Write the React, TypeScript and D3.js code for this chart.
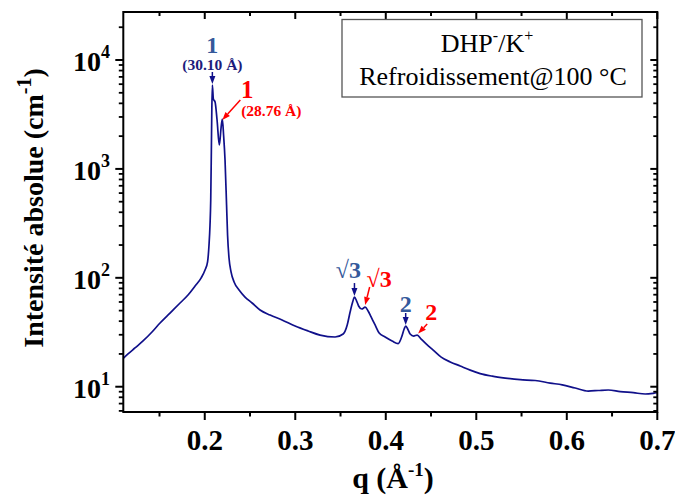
import React from "react";
import * as d3 from "d3";

// ---- data (q in Å^-1, intensity in cm^-1) ----
const qValues = [
  0.1102, 0.1152, 0.1229, 0.1318, 0.1417, 0.1506, 0.1616, 0.1727, 0.1815, 0.1893,
  0.1959, 0.2003, 0.2031, 0.2047, 0.2058, 0.2066, 0.2073, 0.2078, 0.2084, 0.2095,
  0.2114, 0.2136, 0.2161, 0.2180, 0.2194, 0.2208, 0.2224, 0.2241, 0.2252, 0.2268,
  0.2291, 0.2324, 0.2379, 0.2445, 0.2523, 0.2611, 0.2722, 0.2854, 0.2998, 0.3142,
  0.3274, 0.3440, 0.3529, 0.3574, 0.3606, 0.3634, 0.3654, 0.3678, 0.3700, 0.3735,
  0.3772, 0.3805, 0.3838, 0.3882, 0.3927, 0.3993, 0.4070, 0.4137, 0.4175, 0.4203,
  0.4220, 0.4242, 0.4269, 0.4308, 0.4347, 0.4391, 0.4446, 0.4524, 0.4612, 0.4712,
  0.4822, 0.4933, 0.5043, 0.5176, 0.5320, 0.5485, 0.5651, 0.5817, 0.5950, 0.6093,
  0.6237, 0.6348, 0.6458, 0.6591, 0.6735, 0.6867, 0.6956, 0.7000,
];
const intensity = [
  18.3, 20.0, 22.7, 26.3, 31.8, 38.5, 47.5, 58.7, 69.5, 84.1,
  99.5, 118, 140, 200, 305, 518, 1491, 3475, 5896, 4385,
  4116, 2812, 1658, 2375, 2873, 2048, 1207, 466, 247, 152,
  113, 91.5, 77.3, 66.6, 58.7, 50.6, 45.5, 41.0, 36.1, 32.5,
  29.8, 28.6, 30.5, 36.9, 48.5, 59.9, 66.6, 61.2, 55.1, 51.7,
  53.9, 49.6, 43.7, 36.9, 31.1, 28.6, 26.3, 24.9, 28.6, 33.9,
  36.1, 33.9, 30.5, 29.2, 29.8, 27.4, 24.7, 21.7, 18.7, 16.9,
  15.5, 14.2, 13.2, 12.5, 12.0, 11.6, 11.4, 10.8, 10.4, 9.73,
  9.13, 9.23, 9.33, 9.03, 8.81, 8.57, 8.70, 8.81,
];

const xMajorTicks = [0.2, 0.3, 0.4, 0.5, 0.6, 0.7];
const xMinorTicks = [0.15, 0.25, 0.35, 0.45, 0.55, 0.65];
const yMajorTicks = [10, 100, 1000, 10000];
const yMajorExponents = ["1", "2", "3", "4"];

// peak annotations: anchor q / intensity of the peak
const bluePeakQ = [0.2084, 0.3654, 0.4220];
const bluePeakI = [5896, 66.6, 36.1];
const bluePeakLabels = ["1", "√3", "2"];
const redPeakQ = [0.2194, 0.3772, 0.4347];
const redPeakI = [2873, 53.9, 29.8];
const redPeakLabels = ["1", "√3", "2"];
const spacingLabels = ["(30.10 Å)", "(28.76 Å)"];

const legendLine1 = "DHP";
const legendLine2 = "Refroidissement@100 °C";

const W = 675;
const H = 495;
const L = 123.3, R = 657.3, T = 12, B = 412;
const FONT = "'Liberation Serif', 'Times New Roman', serif";
const NAVY = "#10108a";
const BLUE = "#35599b";
const RED = "#ff0000";

function Arrow({ x1, y1, x2, y2, color }: { x1: number; y1: number; x2: number; y2: number; color: string }) {
  const ang = Math.atan2(y2 - y1, x2 - x1);
  const len = 8, half = 3;
  const bx = x2 - len * Math.cos(ang), by = y2 - len * Math.sin(ang);
  const px = -Math.sin(ang) * half, py = Math.cos(ang) * half;
  return (
    <g>
      <line x1={x1} y1={y1} x2={bx} y2={by} stroke={color} strokeWidth={1.5} />
      <path d={`M${x2},${y2}L${bx + px},${by + py}L${bx - px},${by - py}Z`} fill={color} />
    </g>
  );
}

export default function App() {
  const x = d3.scaleLinear().domain([0.11, 0.7]).range([L, R]);
  const y = d3.scaleLog().domain([5.86, 27600]).range([B, T]);
  const data = qValues.map((q, i) => ({ q, I: intensity[i] }));
  const line = d3
    .line<{ q: number; I: number }>()
    .x((d) => x(d.q))
    .y((d) => y(d.I))
    .curve(d3.curveMonotoneX);

  const yMinor: number[] = [];
  [1, 10, 100, 1000, 10000].forEach((dec) => {
    for (let k = 2; k <= 9; k++) {
      const v = k * dec;
      if (v >= 5.86 && v <= 27600) yMinor.push(v);
    }
  });

  const b = bluePeakQ.map((q, i) => ({ px: x(q), py: y(bluePeakI[i]) }));
  const r = redPeakQ.map((q, i) => ({ px: x(q), py: y(redPeakI[i]) }));

  return (
    <svg width={W} height={H} style={{ position: "absolute", left: 0, top: 0, background: "#fff" }} fontFamily={FONT}>
      <defs>
        <clipPath id="plotclip">
          <rect x={L} y={T} width={R - L} height={B - T} />
        </clipPath>
      </defs>

      {/* data */}
      <path d={line(data) || ""} fill="none" stroke={NAVY} strokeWidth={1.7} strokeLinejoin="round" clipPath="url(#plotclip)" />

      {/* frame */}
      <rect x={L} y={T} width={R - L} height={B - T} fill="none" stroke="#000" strokeWidth={2} />

      {/* x ticks */}
      {xMajorTicks.map((t) => (
        <g key={"xm" + t}>
          <line x1={x(t)} x2={x(t)} y1={B} y2={B + 8} stroke="#000" strokeWidth={2} />
          <line x1={x(t)} x2={x(t)} y1={T} y2={T + 7} stroke="#000" strokeWidth={2} />
          <text x={x(t)} y={450} textAnchor="middle" fontSize={29} fontWeight="bold">
            {t.toFixed(1)}
          </text>
        </g>
      ))}
      {xMinorTicks.map((t) => (
        <g key={"xn" + t}>
          <line x1={x(t)} x2={x(t)} y1={B} y2={B + 4.5} stroke="#000" strokeWidth={2} />
          <line x1={x(t)} x2={x(t)} y1={T} y2={T + 4} stroke="#000" strokeWidth={2} />
        </g>
      ))}

      {/* y ticks */}
      {yMajorTicks.map((t, i) => (
        <g key={"ym" + t}>
          <line x1={L - 8} x2={L} y1={y(t)} y2={y(t)} stroke="#000" strokeWidth={2} />
          <line x1={R - 7} x2={R} y1={y(t)} y2={y(t)} stroke="#000" strokeWidth={2} />
          <text x={110} y={y(t) + 11} textAnchor="end" fontSize={28} fontWeight="bold">
            10
            <tspan dy={-13} fontSize={18}>
              {yMajorExponents[i]}
            </tspan>
          </text>
        </g>
      ))}
      {yMinor.map((t) => (
        <g key={"yn" + t}>
          <line x1={L - 4.5} x2={L} y1={y(t)} y2={y(t)} stroke="#000" strokeWidth={1.8} />
          <line x1={R - 4} x2={R} y1={y(t)} y2={y(t)} stroke="#000" strokeWidth={1.8} />
        </g>
      ))}

      {/* axis titles */}
      <text x={393} y={488} textAnchor="middle" fontSize={30} fontWeight="bold">
        q (Å
        <tspan dy={-12} fontSize={19}>-1</tspan>
        <tspan dy={12}>)</tspan>
      </text>
      <text transform="translate(43,208) rotate(-90)" textAnchor="middle" fontSize={28} fontWeight="bold">
        Intensité absolue (cm
        <tspan dy={-12} fontSize={20}>-1</tspan>
        <tspan dy={12}>)</tspan>
      </text>

      {/* legend */}
      <rect x={342} y={19.5} width={300} height={77.5} fill="#fff" stroke="#555" strokeWidth={1.3} />
      <text x={487} y={52} textAnchor="middle" fontSize={26}>
        {legendLine1}
        <tspan dy={-11} fontSize={16}>-</tspan>
        <tspan dy={11}>/K</tspan>
        <tspan dy={-11} fontSize={16}>+</tspan>
      </text>
      <text x={493} y={85} textAnchor="middle" fontSize={26}>
        {legendLine2}
      </text>

      {/* blue annotations */}
      <text x={b[0].px} y={b[0].py - 32} textAnchor="middle" fontSize={24} fontWeight="bold" fill={BLUE}>
        {bluePeakLabels[0]}
      </text>
      <text x={b[0].px} y={b[0].py - 15} textAnchor="middle" fontSize={15.5} fontWeight="bold" fill="#1c1c7c">
        {spacingLabels[0]}
      </text>
      <Arrow x1={b[0].px} y1={b[0].py - 13} x2={b[0].px} y2={b[0].py - 1} color={NAVY} />

      <text x={b[1].px - 6} y={b[1].py - 19} textAnchor="middle" fontSize={24} fontWeight="bold" fill={BLUE}>
        {bluePeakLabels[1]}
      </text>
      <Arrow x1={b[1].px} y1={b[1].py - 14} x2={b[1].px} y2={b[1].py - 1} color={NAVY} />

      <text x={b[2].px} y={b[2].py - 14} textAnchor="middle" fontSize={24} fontWeight="bold" fill={BLUE}>
        {bluePeakLabels[2]}
      </text>
      <Arrow x1={b[2].px} y1={b[2].py - 13} x2={b[2].px} y2={b[2].py - 1} color={NAVY} />

      {/* red annotations */}
      <text x={r[0].px + 25} y={r[0].py - 21} textAnchor="middle" fontSize={25} fontWeight="bold" fill={RED}>
        {redPeakLabels[0]}
      </text>
      <text x={r[0].px + 49} y={r[0].py - 3} textAnchor="middle" fontSize={15.5} fontWeight="bold" fill={RED}>
        {spacingLabels[1]}
      </text>
      <Arrow x1={r[0].px + 18} y1={r[0].py - 19} x2={r[0].px} y2={r[0].py + 1} color={RED} />

      <text x={r[1].px + 14} y={r[1].py - 20} textAnchor="middle" fontSize={24} fontWeight="bold" fill={RED}>
        {redPeakLabels[1]}
      </text>
      <Arrow x1={r[1].px + 4.5} y1={r[1].py - 20} x2={r[1].px} y2={r[1].py - 2} color={RED} />

      <text x={r[2].px + 14} y={r[2].py - 15} textAnchor="middle" fontSize={24} fontWeight="bold" fill={RED}>
        {redPeakLabels[2]}
      </text>
      <Arrow x1={r[2].px + 10} y1={r[2].py - 11} x2={r[2].px + 1} y2={r[2].py - 1.5} color={RED} />
    </svg>
  );
}
